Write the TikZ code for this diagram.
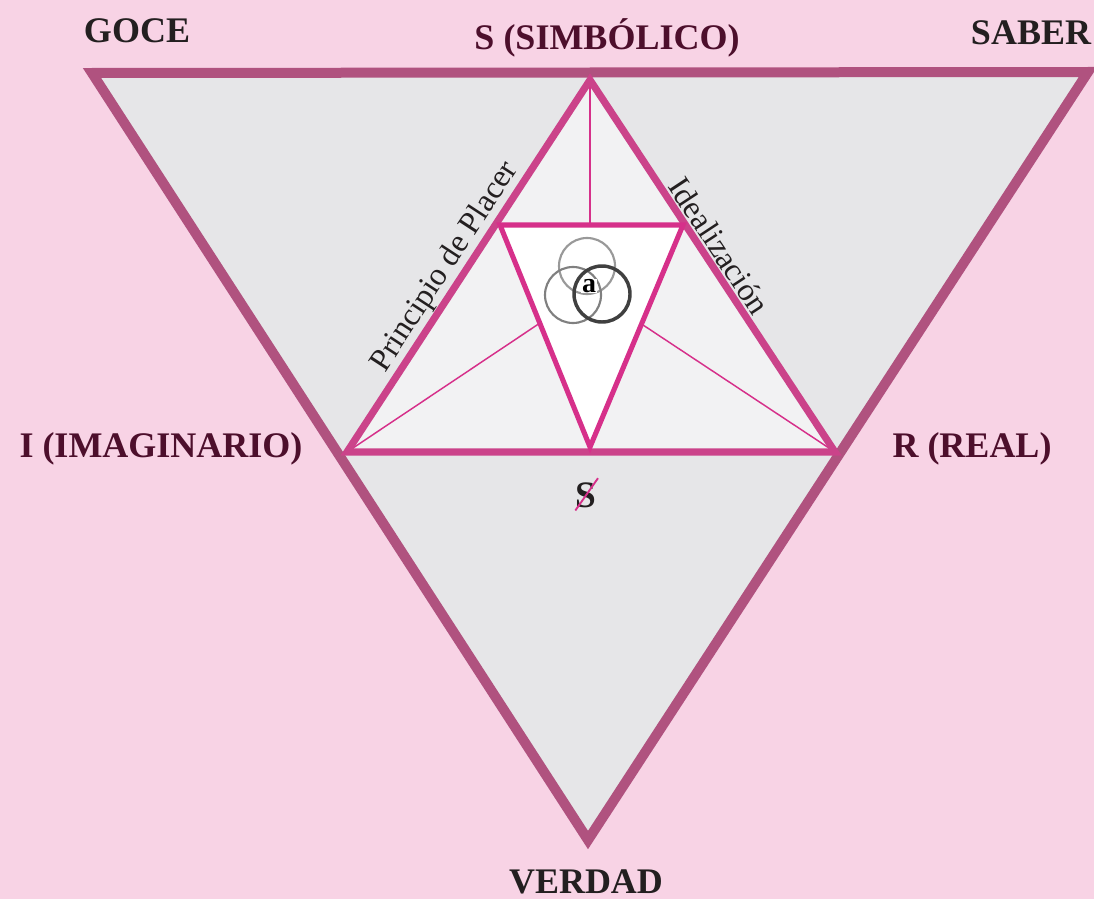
\documentclass[tikz,border=0pt]{standalone}
\usepackage{fontspec}
\setmainfont{Liberation Serif}
\definecolor{bgpink}{HTML}{F8D3E5}
\definecolor{outerrim}{HTML}{B0527F}
\definecolor{outergray}{HTML}{E6E6E8}
\definecolor{innergray}{HTML}{F2F2F3}
\definecolor{innerrim}{HTML}{CB438A}
\definecolor{smallrim}{HTML}{D6308A}
\definecolor{maroon}{HTML}{4D0F2C}
\definecolor{inkblack}{HTML}{231F20}

\begin{document}
\begin{tikzpicture}[
  x=0.75pt, y=-0.75pt,
  corner/.style={
    anchor=base, inner sep=0pt, text=inkblack,
    font=\fontsize{27}{30}\selectfont\bfseries
  },
  register/.style={corner, text=maroon},
  edgelabel/.style={
    inner sep=1pt, text=inkblack,
    font=\fontsize{24}{26}\selectfont
  },
  outerline/.style={draw=outerrim, line width=7.5pt, line join=miter},
  innerline/.style={draw=innerrim, line width=5.4pt, line join=miter},
  smallline/.style={draw=smallrim, line width=3.8pt, line join=miter},
  spoke/.style={draw=smallrim, line width=1.1pt},
  ring/.style={line width=1.6pt}
]
\path[use as bounding box, fill=bgpink] (0,0) rectangle (1094,899);
% Corners
\coordinate (o1) at (92,73);
\coordinate (o2) at (1088,72);
\coordinate (o3) at (588,840);
\coordinate (s)  at (590,80);
\coordinate (i)  at (347,452);
\coordinate (r)  at (835,452);
\coordinate (a1) at (500,225);
\coordinate (a2) at (683,225);
\coordinate (a3) at (590,447);
\coordinate (mt) at (590,225);
\coordinate (ml) at (540,323);
\coordinate (mr) at (640,323);
% Fills
\fill[outergray] (o1) -- (o2) -- (o3) -- cycle;
\fill[innergray] (s) -- (i) -- (r) -- cycle;
\fill[white] (a1) -- (a2) -- (a3) -- cycle;
% Thin lines
\draw[spoke] (s) -- (mt);
\draw[spoke] (i) -- (ml);
\draw[spoke] (r) -- (mr);
% Triangles
\draw[outerline] (o1) -- (o2) -- (o3) -- cycle;
\draw[innerline] (s) -- (i) -- (r) -- cycle;
\draw[smallline] (a1) -- (a2) -- (a3) -- cycle;
% Rings
\draw[ring, draw=black!40] (587,266) circle[radius=28];
\draw[ring, draw=black!50] (573,295) circle[radius=28];
\draw[ring, draw=black!75, line width=2.6pt] (602,294) circle[radius=28];
\node[fill=white, inner sep=0.5pt, font=\fontsize{21}{21}\selectfont\bfseries] (objeto) at (589,286) {a};
% Barred subject
\node[inner sep=0pt, text=inkblack, font=\fontsize{28}{28}\selectfont\bfseries] (sujeto) at (586,495) {S};
\draw[smallrim, line width=1.4pt] ([xshift=-8pt,yshift=-2pt]sujeto.south) -- ([xshift=1pt,yshift=3pt]sujeto.north east);
% Edge labels
\path (i) -- (s) node[edgelabel, pos=0.47, above=2pt, sloped] (placer) {Principio de Placer};
\path (s) -- (r) node[edgelabel, pos=0.47, above=3pt, sloped] (ideal) {Idealización};
% Labels
\node[corner]   (goce)   at (137,43)  {GOCE};
\node[register] (simb)   at (607,50)  {S (SIMBÓLICO)};
\node[corner]   (saber)  at (1031,45) {SABER};
\node[register] (imag)   at (161,457) {I (IMAGINARIO)};
\node[register] (real)   at (972,457) {R (REAL)};
\node[corner]   (verdad) at (586,893) {VERDAD};
\end{tikzpicture}
\end{document}
